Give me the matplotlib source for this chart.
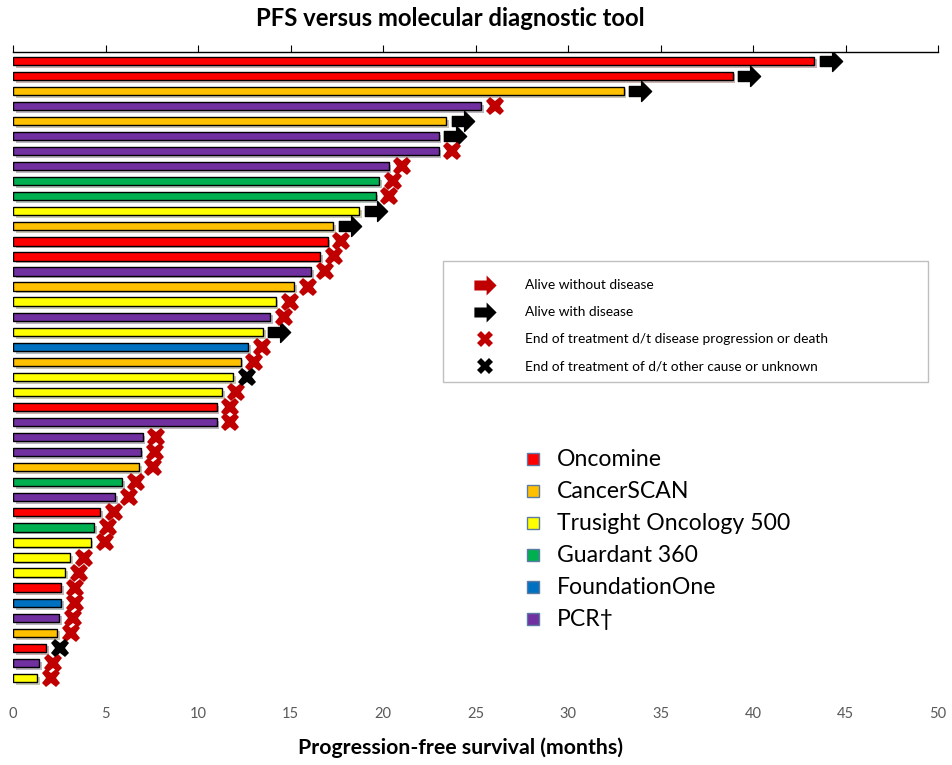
import numpy as np
import matplotlib
matplotlib.use("Agg")
import matplotlib.pyplot as plt
import matplotlib.patheffects as pe
from matplotlib.path import Path

plt.rcParams['font.family'] = ['Lato', 'DejaVu Sans']

# ---- data (top row first) ----
tools = ['Oncomine', 'CancerSCAN', 'Trusight Oncology 500',
         'Guardant 360', 'FoundationOne', 'PCR\u2020']
tool_colors = ['#FF0000', '#FFC000', '#FFFF00', '#00B050', '#0070C0', '#7030A0']

# index into tools for each patient row
row_tool = [0, 0, 1, 5, 1, 5, 5, 5, 3, 3,
            2, 1, 0, 0, 5, 1, 2, 5, 2, 4,
            1, 2, 2, 0, 5, 5, 5, 1, 3, 5,
            0, 3, 2, 2, 2, 0, 4, 5, 1, 0,
            5, 2]

pfs = [43.3, 38.9, 33.0, 25.3, 23.4, 23.0, 23.0, 20.3, 19.8, 19.6,
       18.7, 17.3, 17.0, 16.6, 16.1, 15.2, 14.2, 13.9, 13.5, 12.7,
       12.3, 11.9, 11.3, 11.0, 11.0, 7.0, 6.9, 6.8, 5.9, 5.5,
       4.7, 4.4, 4.2, 3.1, 2.8, 2.6, 2.6, 2.5, 2.4, 1.8,
       1.4, 1.3]

# AWD = alive with disease, PD = end of tx d/t progression or death,
# OTH = end of tx d/t other cause or unknown
status = ['AWD', 'AWD', 'AWD', 'PD', 'AWD', 'AWD', 'PD', 'PD', 'PD', 'PD',
          'AWD', 'AWD', 'PD', 'PD', 'PD', 'PD', 'PD', 'PD', 'AWD', 'PD',
          'PD', 'OTH', 'PD', 'PD', 'PD', 'PD', 'PD', 'PD', 'PD', 'PD',
          'PD', 'PD', 'PD', 'PD', 'PD', 'PD', 'PD', 'PD', 'PD', 'OTH',
          'PD', 'PD']

status_labels = ['Alive without disease', 'Alive with disease',
                 'End of treatment d/t disease progression or death',
                 'End of treatment of d/t other cause or unknown']

# arrow marker
arrow_verts = [(-1, -0.45), (0.1, -0.45), (0.1, -0.9), (1, 0), (0.1, 0.9),
               (0.1, 0.45), (-1, 0.45), (-1, -0.45)]
arrow_codes = [Path.MOVETO] + [Path.LINETO] * 6 + [Path.CLOSEPOLY]
ARROW = Path(arrow_verts, arrow_codes)
DARK_RED = '#C00000'

fig = plt.figure(figsize=(9.52, 7.65), dpi=100)
ax = fig.add_axes([13 / 952, 1 - 690 / 765, 925 / 952, (690 - 52) / 765])

y = np.arange(len(pfs))
bar_colors = [tool_colors[t] for t in row_tool]
bars = ax.barh(y, pfs, height=0.55, color=bar_colors, edgecolor='black',
               linewidth=1.0, zorder=2)
for b in bars:
    b.set_path_effects([pe.SimplePatchShadow(offset=(2, -2), alpha=0.3),
                        pe.Normal()])

pfs_arr = np.array(pfs)
st = np.array(status)
m = st == 'AWD'
ax.plot(pfs_arr[m] + 0.9, y[m], linestyle='none', marker=ARROW,
        markersize=16, color='black', zorder=3)
m = st == 'PD'
ax.plot(pfs_arr[m] + 0.75, y[m], linestyle='none', marker='X',
        markersize=13, color=DARK_RED, markeredgewidth=0, zorder=3)
m = st == 'OTH'
ax.plot(pfs_arr[m] + 0.75, y[m], linestyle='none', marker='X',
        markersize=13, color='black', markeredgewidth=0, zorder=4)

ax.set_xlim(0, 50)
ax.set_ylim(41.8, -0.58)
ax.set_xticks(range(0, 51, 5))
ax.set_yticks([])
for s in ['left', 'right', 'bottom']:
    ax.spines[s].set_visible(False)
ax.spines['top'].set_linewidth(1.0)
ax.tick_params(axis='x', top=True, bottom=False, labeltop=False,
               labelbottom=True, direction='out', length=5, pad=7,
               labelsize=10.5, labelcolor='#595959')

fig.text(450 / 952, 1 - 18 / 765, 'PFS versus molecular diagnostic tool',
         ha='center', va='center', fontsize=17.2, fontweight='bold')
fig.text(460 / 952, 1 - 748 / 765, 'Progression-free survival (months)',
         ha='center', va='center', fontsize=15.3, fontweight='bold')

# ---- legends drawn in pixel coordinates ----
ov = fig.add_axes([0, 0, 1, 1], facecolor='none')
ov.set_xlim(0, 952)
ov.set_ylim(765, 0)
ov.axis('off')

ov.add_patch(plt.Rectangle((443, 261), 485, 121, fill=False,
                           edgecolor='#BFBFBF', linewidth=1.0))
leg_markers = [(ARROW, DARK_RED, 16), (ARROW, 'black', 16),
               ('X', DARK_RED, 12), ('X', 'black', 12)]
for i, (lab, (mk, col, ms)) in enumerate(zip(status_labels, leg_markers)):
    yy = 285 + i * 27
    ov.plot([485], [yy], marker=mk, markersize=ms, color=col,
            markeredgewidth=0, linestyle='none')
    ov.text(525, yy, lab, ha='left', va='center', fontsize=9.9)

for i, (lab, col) in enumerate(zip(tools, tool_colors)):
    yy = 459 + i * 32
    ov.add_patch(plt.Rectangle((527, yy - 6), 12, 12, facecolor=col,
                               edgecolor='#5B7BA5', linewidth=1.0))
    ov.text(557, yy, lab, ha='left', va='center', fontsize=16.6)

fig.savefig('out.png', dpi=100)
